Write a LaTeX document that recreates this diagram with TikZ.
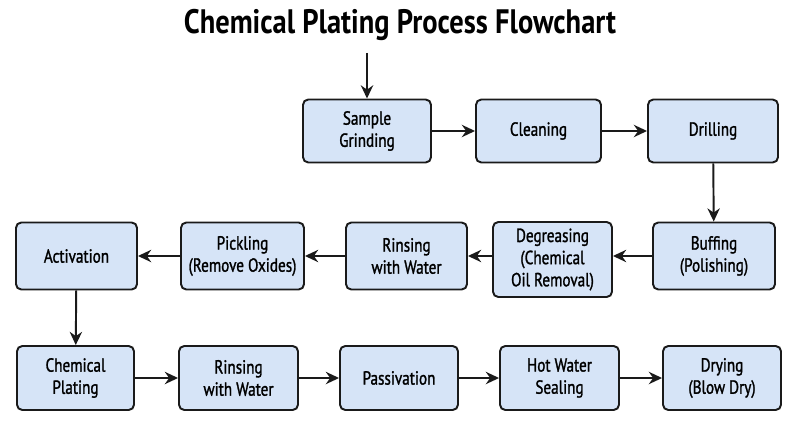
\documentclass[tikz,border=0pt]{standalone}
\usepackage{fontspec}
\setmainfont{PT Sans}[FakeStretch=0.84]
\newfontfamily\boxfont{PT Sans}[FakeStretch=0.80, FakeBold=1.3]
\usetikzlibrary{arrows.meta}

\definecolor{boxblue}{RGB}{214,228,247}
\definecolor{ink}{RGB}{26,26,26}

\tikzset{
  stepbox/.style={draw=ink, fill=boxblue, line width=1.1pt, rounded corners=3pt,
    align=center, font=\boxfont\fontsize{10.8}{12.6}\selectfont, inner sep=2pt},
  flow/.style={-{Stealth[length=7.5pt,width=7pt]}, draw=ink, line width=1.1pt}
}

\begin{document}
\begin{tikzpicture}
      \useasboundingbox (0,0) rectangle (16,-8.78);
      \node[font=\fontsize{19.3}{23}\bfseries] (title) at (8,-0.5){Chemical Plating Process Flowchart};
      % first row
      \node[stepbox, minimum width=2.56cm, minimum height=1.26cm] (grind) at (7.34,-2.62){Sample\\Grinding};
      \node[stepbox, minimum width=2.5cm, minimum height=1.26cm] (clean) at (10.77,-2.62){Cleaning};
      \node[stepbox, minimum width=2.6cm, minimum height=1.26cm] (drill) at (14.26,-2.62){Drilling};
      % second row
      \node[stepbox, minimum width=2.44cm, minimum height=1.34cm] (buff) at (14.28,-5.12){Buffing\\(Polishing)};
      \node[stepbox, minimum width=2.38cm, minimum height=1.5cm] (degrease) at (11.05,-5.19){Degreasing\\(Chemical\\Oil Removal)};
      \node[stepbox, minimum width=2.42cm, minimum height=1.34cm] (rinseA) at (8.13,-5.12){Rinsing\\with Water};
      \node[stepbox, minimum width=2.46cm, minimum height=1.34cm] (pickle) at (4.85,-5.12){Pickling\\(Remove Oxides)};
      \node[stepbox, minimum width=2.42cm, minimum height=1.34cm] (activate) at (1.53,-5.12){Activation};
      % third row
      \node[stepbox, minimum width=2.34cm, minimum height=1.28cm] (plate) at (1.51,-7.56){Chemical\\Plating};
      \node[stepbox, minimum width=2.38cm, minimum height=1.28cm] (rinseB) at (4.77,-7.56){Rinsing\\with Water};
      \node[stepbox, minimum width=2.36cm, minimum height=1.28cm] (passiv) at (7.98,-7.56){Passivation};
      \node[stepbox, minimum width=2.38cm, minimum height=1.28cm] (seal) at (11.19,-7.56){Hot Water\\Sealing};
      \node[stepbox, minimum width=2.36cm, minimum height=1.28cm] (dry) at (14.44,-7.56){Drying\\(Blow Dry)};
      % connectors
      \coordinate (start) at (7.34,-1.06);
      \draw[flow] (start) -- (grind.north);
      \draw[flow] (grind) -- (clean);
      \draw[flow] (clean) -- (drill);
      \draw[flow] (drill) -- (buff);
      \draw[flow] (buff) -- (buff.west -| degrease.east);
      \draw[flow] (degrease.west |- rinseA.east) -- (rinseA);
      \draw[flow] (rinseA) -- (pickle);
      \draw[flow] (pickle) -- (activate);
      \draw[flow] (activate) -- (plate);
      \draw[flow] (plate) -- (rinseB);
      \draw[flow] (rinseB) -- (passiv);
      \draw[flow] (passiv) -- (seal);
      \draw[flow] (seal) -- (dry);
    \end{tikzpicture}
\end{document}
